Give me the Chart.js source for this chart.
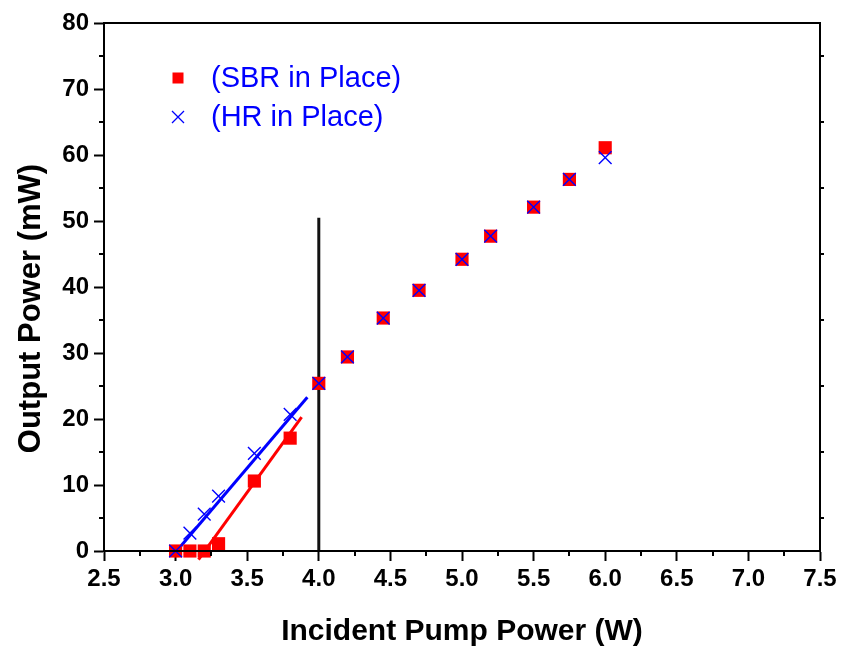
<!DOCTYPE html>
<html>
<head>
<meta charset="utf-8">
<script src="https://cdn.jsdelivr.net/npm/chart.js@4"></script>
<style>
  html, body { margin: 0; padding: 0; background: #fff; }
  #wrap { width: 843px; height: 650px; }
</style>
</head>
<body>
<div id="wrap"><canvas id="myChart" width="843" height="650"></canvas></div>
<script>
// pump power (W)
const pumpPower = [3.0, 3.1, 3.2, 3.3, 3.55, 3.8, 4.0, 4.2, 4.45, 4.7, 5.0, 5.2, 5.5, 5.75, 6.0];
// output power (mW)
const sbrOutput = [0, 0, 0, 1.1, 10.6, 17.1, 25.4, 29.4, 35.3, 39.5, 44.2, 47.7, 52.1, 56.3, 61.1];
const hrOutput = [0, 2.7, 5.6, 8.3, 14.8, 20.7, 25.4, 29.4, 35.3, 39.5, 44.2, 47.7, 52.1, 56.3, 59.6];

// linear fits below threshold, read as end points
const hrFitX = [3.0, 3.92];
const hrFitY = [-0.2, 23.3];
const sbrFitX = [3.16, 3.88];
const sbrFitY = [-1.3, 20.3];

// vertical marker at 4 W
const markerX = [4.0, 4.0];
const markerY = [0, 50.5];

const xTicks = { min: 2.5, max: 7.5, step: 0.5 };
const yTicks = { min: 0, max: 80, step: 10 };

const legendItems = [
    { label: '(SBR in Place)', style: 'rect', color: '#ff0000' },
    { label: '(HR in Place)', style: 'cross', color: '#0000ff' }
];

const FONT = "'Liberation Sans', Arial, sans-serif";

function pts(xs, ys) {
    return xs.map((x, i) => ({ x: x, y: ys[i] }));
}

// border, minor ticks and legend
const extras = {
    id: 'extras',
    afterDraw(chart) {
        const ctx = chart.ctx;
        const a = chart.chartArea;
        const xs = chart.scales.x;
        const ys = chart.scales.y;
        ctx.save();
        ctx.strokeStyle = '#000';
        ctx.lineWidth = 2;
        ctx.strokeRect(a.left, a.top, a.right - a.left, a.bottom - a.top);

        ctx.beginPath();
        for (let v = xTicks.min + xTicks.step / 2; v < xTicks.max; v += xTicks.step) {
            const px = Math.round(xs.getPixelForValue(v));
            ctx.moveTo(px, a.bottom);
            ctx.lineTo(px, a.bottom + 5);
        }
        for (let v = yTicks.min + yTicks.step / 2; v < yTicks.max; v += yTicks.step) {
            const py = Math.round(ys.getPixelForValue(v));
            ctx.moveTo(a.left, py);
            ctx.lineTo(a.left - 5, py);
            ctx.moveTo(a.right, py);
            ctx.lineTo(a.right + 4, py);
        }
        ctx.stroke();

        // legend
        ctx.font = '29px ' + FONT;
        ctx.textBaseline = 'middle';
        ctx.textAlign = 'left';
        legendItems.forEach((item, i) => {
            const cx = a.left + 74;
            const cy = a.top + 55 + i * 39;
            if (item.style === 'rect') {
                ctx.fillStyle = item.color;
                ctx.fillRect(cx - 5.5, cy - 5.5, 11, 11);
            } else {
                ctx.strokeStyle = item.color;
                ctx.lineWidth = 1.3;
                ctx.beginPath();
                ctx.moveTo(cx - 6, cy - 6);
                ctx.lineTo(cx + 6, cy + 6);
                ctx.moveTo(cx + 6, cy - 6);
                ctx.lineTo(cx - 6, cy + 6);
                ctx.stroke();
            }
            ctx.fillStyle = '#0000ff';
            ctx.fillText(item.label, a.left + 107, cy + 1);
        });
        ctx.restore();
    }
};

function makeChart() {
    const ctx = document.getElementById('myChart');

    new Chart(ctx, {
        type: 'scatter',
        data: {
            datasets: [
                {
                    label: '(HR in Place)',
                    data: pts(pumpPower, hrOutput),
                    pointStyle: 'crossRot',
                    radius: 9,
                    borderColor: '#0000ff',
                    borderWidth: 1.4,
                    clip: false,
                    order: 0
                },
                {
                    label: '(SBR in Place)',
                    data: pts(pumpPower, sbrOutput),
                    pointStyle: 'rect',
                    radius: 9.3,
                    backgroundColor: '#ff0000',
                    borderColor: '#ff0000',
                    borderWidth: 0,
                    clip: false,
                    order: 1
                },
                {
                    label: 'HR fit',
                    data: pts(hrFitX, hrFitY),
                    showLine: true,
                    radius: 0,
                    borderColor: '#0000ff',
                    borderWidth: 3,
                    clip: false,
                    order: 2
                },
                {
                    label: 'SBR fit',
                    data: pts(sbrFitX, sbrFitY),
                    showLine: true,
                    radius: 0,
                    borderColor: '#ff0000',
                    borderWidth: 3,
                    clip: false,
                    order: 3
                },
                {
                    label: 'threshold',
                    data: pts(markerX, markerY),
                    showLine: true,
                    radius: 0,
                    borderColor: '#111',
                    borderWidth: 3,
                    order: 4
                }
            ]
        },
        options: {
            responsive: false,
            animation: false,
            layout: { padding: { top: 23, right: 23, left: 0, bottom: 0 } },
            plugins: {
                legend: { display: false },
                tooltip: { enabled: false }
            },
            scales: {
                x: {
                    type: 'linear',
                    min: xTicks.min,
                    max: xTicks.max,
                    afterFit: (s) => { s.height = 99; },
                    ticks: {
                        stepSize: xTicks.step,
                        callback: (v) => v.toFixed(1),
                        color: '#000',
                        font: { family: FONT, size: 24, weight: 'bold' },
                        padding: 4,
                        maxRotation: 0
                    },
                    grid: {
                        drawOnChartArea: false,
                        tickLength: 10,
                        tickColor: '#000',
                        tickWidth: 2
                    },
                    border: { color: '#000', width: 2 },
                    title: {
                        display: true,
                        text: 'Incident Pump Power (W)',
                        color: '#000',
                        font: { family: FONT, size: 30, weight: 'bold' },
                        padding: { top: 0, bottom: 0 }
                    }
                },
                y: {
                    min: yTicks.min,
                    max: yTicks.max,
                    afterFit: (s) => { s.width = 104; },
                    ticks: {
                        stepSize: yTicks.step,
                        color: '#000',
                        font: { family: FONT, size: 24, weight: 'bold' },
                        padding: 5
                    },
                    grid: {
                        drawOnChartArea: false,
                        tickLength: 10,
                        tickColor: '#000',
                        tickWidth: 2
                    },
                    border: { color: '#000', width: 2 },
                    title: {
                        display: true,
                        text: 'Output Power (mW)     ',
                        color: '#000',
                        font: { family: FONT, size: 31, weight: 'bold' },
                        padding: { top: 13, bottom: 0 }
                    }
                }
            }
        },
        plugins: [extras]
    });
}

makeChart();
</script>
</body>
</html>
